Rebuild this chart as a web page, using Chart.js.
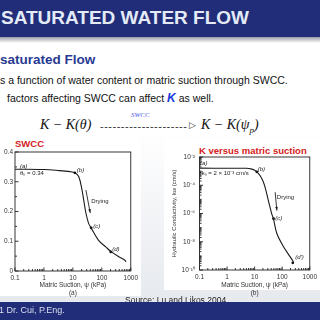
<!DOCTYPE html>
<html>
<head>
<meta charset="utf-8">
<script src="https://cdn.jsdelivr.net/npm/chart.js@4.4.1/dist/chart.umd.min.js"></script>
<style>
  html, body { margin: 0; padding: 0; }
  body { width: 320px; height: 320px; overflow: hidden; position: relative;
         font-family: "Liberation Sans", Arial, sans-serif;
         background: linear-gradient(180deg, #ffffff 0px, #ffffff 130px, #e6e9ee 300px); }
  .abs { position: absolute; white-space: nowrap; }
  #header { left: 0; top: 0; width: 320px; height: 37px; background: #212d78; }
  #shadow { left: 0; top: 37px; width: 320px; height: 6px; background: linear-gradient(180deg, #9a9ca6, rgba(255,255,255,0)); }
  #headText { left: 1px; top: 7px; font-size: 19px; font-weight: bold; color: #e4ebf6; }
  #sub { left: 0; top: 52px; font-size: 13.5px; font-weight: bold; color: #283a92; }
  .line { font-size: 10.5px; color: #111; }
  .eq { top: 117px; font-family: "Liberation Serif", serif; font-style: italic; font-size: 14px; color: #111; }
  .box { background: #fff; }
  .red { font-size: 9.5px; font-weight: bold; color: #d42020; }
  #footer { left: 0; top: 302px; width: 320px; height: 18px; background: #212d78; z-index: 5; }
  #footText { left: -1px; top: 305px; font-size: 9px; color: #d9dff0; z-index: 6; }
  canvas { position: absolute; }
</style>
</head>
<body>
<div id="header" class="abs"></div>
<div id="shadow" class="abs"></div>
<div id="headText" class="abs">SATURATED WATER FLOW</div>
<div id="sub" class="abs">saturated Flow</div>
<div class="abs line" style="left:0;top:74px;">s a function of water content or matric suction through SWCC.</div>
<div class="abs line" style="left:7px;top:91px;">factors affecting SWCC can affect <b style="color:#1a3ae0;font-style:italic;font-size:12px;">K</b> as well.</div>
<div class="abs eq" style="left:40px;">K − K(θ)</div>
<div class="abs" style="left:100px;top:120px;font-size:11px;color:#333;letter-spacing:0.5px;">---------------------</div>
<div class="abs" style="left:189px;top:120px;font-size:9px;color:#333;">▷</div>
<div class="abs eq" style="left:201px;">K − K(ψ<sub style="font-size:9px;">p</sub>)</div>
<div class="abs" style="left:131px;top:111px;font-family:'Liberation Serif',serif;font-style:italic;font-size:7px;color:#4a55e0;">SWCC</div>

<div class="abs box" style="left:0;top:138px;width:141px;height:158px;"></div>
<div class="abs box" style="left:164px;top:140px;width:156px;height:150px;"></div>
<div class="abs red" style="left:15px;top:138px;">SWCC</div>
<div class="abs red" style="left:199px;top:145px;">K versus matric suction</div>

<canvas id="left" width="141" height="160" style="left:0;top:140px;width:141px;height:160px;"></canvas>
<canvas id="right" width="155" height="160" style="left:165px;top:140px;width:155px;height:160px;"></canvas>

<div class="abs" style="left:125px;top:295px;font-size:8.5px;color:#222;">Source: Lu and Likos 2004</div>
<div id="footer" class="abs"></div>
<div id="footText" class="abs">1 Dr. Cui, P.Eng.</div>

<script>
// ---- data ----
const suctionTicks = [0.1, 1, 10, 100, 1000];
const suctionTickLabels = ['0.1', '1', '10', '100', '1000'];

const swccSuction = [0.1, 1, 3, 8, 11.7, 16, 20.7, 23.6, 28.2, 34.7, 42.7, 76, 140, 209, 400, 613, 680];
const swccTheta = [0.342, 0.341, 0.338, 0.334, 0.330, 0.317, 0.272, 0.239, 0.195, 0.161, 0.145, 0.104, 0.080, 0.065, 0.047, 0.037, 0.031];
const swccTicks = [0, 0.1, 0.2, 0.3, 0.4];
const swccTickLabels = ['0', '0.1', '0.2', '0.3', '0.4'];
const swccMarkSuction = [11.7, 42.7, 204];
const swccMarkTheta = [0.330, 0.145, 0.064];

const kSuction = [0.1, 1, 5, 8, 10, 12, 15.9, 20, 24, 31.5, 41.7, 48, 64, 112, 195, 257];
const kValue = [1.62e-3, 1.58e-3, 1.58e-3, 1.38e-3, 1.17e-3, 8.9e-4, 4.7e-4, 2.0e-4, 7.1e-5, 8.1e-6, 9.5e-7, 4.3e-7, 3.8e-8, 4.4e-9, 8.5e-10, 3.8e-10];
const kTicks = [1e-10, 1e-8, 1e-6, 1e-4, 1e-2];
const kTickLabels = ['10⁻¹⁰', '10⁻⁸', '10⁻⁶', '10⁻⁴', '10⁻²'];
const kMarkSuction = [12, 48.5, 242];
const kMarkValue = [8.9e-4, 4.3e-7, 3.2e-10];

// minor tick positions for log axes
function logMinors(lo, hi) {
  const out = [];
  for (let d = lo; d < hi; d++) for (let m = 2; m <= 9; m++) out.push(m * Math.pow(10, d));
  return out;
}

const decorate = {
  id: 'decorate',
  afterDatasetsDraw(chart, args, o) {
    const { ctx, chartArea: a, scales: { x, y } } = chart;
    ctx.save();
    ctx.strokeStyle = '#222';
    ctx.lineWidth = 0.9;
    ctx.strokeRect(a.left, a.top, a.right - a.left, a.bottom - a.top);
    ctx.beginPath();
    const tickX = (vals, len) => vals.forEach(v => {
      const p = x.getPixelForValue(v);
      ctx.moveTo(p, a.bottom); ctx.lineTo(p, a.bottom - len);
    });
    const tickY = (vals, len) => vals.forEach(v => {
      const p = y.getPixelForValue(v);
      ctx.moveTo(a.left, p); ctx.lineTo(a.left + len, p);
    });
    tickX(o.xMajor, 3.5); tickX(o.xMinor, 2);
    tickY(o.yMajor, 3.5); tickY(o.yMinor, 2);
    ctx.stroke();

    // drying arrow
    const ar = o.arrow;
    const x0 = x.getPixelForValue(ar[0]), y0 = y.getPixelForValue(ar[1]);
    const x1 = x.getPixelForValue(ar[2]), y1 = y.getPixelForValue(ar[3]);
    ctx.beginPath();
    ctx.moveTo(x0, y0); ctx.lineTo(x1, y1); ctx.stroke();
    const ang = Math.atan2(y1 - y0, x1 - x0);
    ctx.beginPath();
    ctx.moveTo(x1, y1);
    ctx.lineTo(x1 - 4 * Math.cos(ang - 0.35), y1 - 4 * Math.sin(ang - 0.35));
    ctx.lineTo(x1 - 4 * Math.cos(ang + 0.35), y1 - 4 * Math.sin(ang + 0.35));
    ctx.closePath();
    ctx.fillStyle = '#222';
    ctx.fill();

    // labels on the plot
    ctx.textBaseline = 'middle';
    o.notes.forEach(n => {
      ctx.font = (n.italic ? 'italic ' : '') + '6px "Liberation Sans", Arial, sans-serif';
      ctx.fillText(n.text, x.getPixelForValue(n.x), y.getPixelForValue(n.y));
    });
    ctx.restore();
  }
};

const tickFont = { family: '"Liberation Sans", Arial, sans-serif', size: 6.5 };

function xAxis(titleLines, height) {
  return {
    type: 'logarithmic', min: 0.1, max: 1000,
    grid: { display: false, drawTicks: false },
    border: { display: false },
    afterBuildTicks: s => { s.ticks = suctionTicks.map(v => ({ value: v })); },
    afterFit: s => { s.height = height; },
    ticks: {
      font: tickFont, color: '#333', padding: 3, autoSkip: false, maxRotation: 0,
      callback: (v) => suctionTickLabels[suctionTicks.indexOf(v)]
    },
    title: { display: true, text: titleLines, font: tickFont, color: '#333', padding: { top: 0, bottom: 3.3 } }
  };
}

// ---- left: SWCC ----
new Chart(document.getElementById('left'), {
  type: 'scatter',
  data: {
    datasets: [
      {
        data: swccSuction.map((v, i) => ({ x: v, y: swccTheta[i] })),
        showLine: true, borderColor: '#1a1a1a', borderWidth: 1.1, pointRadius: 0, tension: 0.35
      },
      {
        data: swccMarkSuction.map((v, i) => ({ x: v, y: swccMarkTheta[i] })),
        showLine: false, pointRadius: 1.4, backgroundColor: '#111', borderWidth: 0
      }
    ]
  },
  options: {
    responsive: false, animation: false,
    layout: { padding: { left: 0, top: 12, right: 7, bottom: 0 } },
    plugins: {
      legend: { display: false }, tooltip: { enabled: false },
      decorate: {
        xMajor: suctionTicks, xMinor: logMinors(-1, 3),
        yMajor: swccTicks, yMinor: [0.05, 0.15, 0.25, 0.35],
        arrow: [28.2, 0.272, 39.8, 0.195],
        notes: [
          { x: 0.148, y: 0.353, text: '(a)', italic: true },
          { x: 0.15, y: 0.327, text: 'θₛ = 0.34' },
          { x: 13.7, y: 0.339, text: '(b)', italic: true },
          { x: 43, y: 0.233, text: 'Drying' },
          { x: 51, y: 0.149, text: '(c)', italic: true },
          { x: 227, y: 0.074, text: '(d)', italic: true }
        ]
      }
    },
    scales: {
      x: xAxis(['Matric Suction, ψ (kPa)', '(a)'], 29),
      y: {
        min: 0, max: 0.4,
        grid: { display: false, drawTicks: false },
        border: { display: false },
        afterBuildTicks: s => { s.ticks = swccTicks.map(v => ({ value: v })); },
        afterFit: s => { s.width = 15; },
        ticks: {
          font: tickFont, color: '#333', padding: 2,
          callback: (v) => swccTickLabels[swccTicks.indexOf(v)]
        }
      }
    }
  },
  plugins: [decorate]
});

// ---- right: K versus matric suction ----
new Chart(document.getElementById('right'), {
  type: 'scatter',
  data: {
    datasets: [
      {
        data: kSuction.map((v, i) => ({ x: v, y: kValue[i] })),
        showLine: true, borderColor: '#1a1a1a', borderWidth: 1.1, pointRadius: 0, tension: 0.35
      },
      {
        data: kMarkSuction.map((v, i) => ({ x: v, y: kMarkValue[i] })),
        showLine: false, pointRadius: 1.4, backgroundColor: '#111', borderWidth: 0
      }
    ]
  },
  options: {
    responsive: false, animation: false,
    layout: { padding: { left: 0, top: 17, right: 9, bottom: 0 } },
    plugins: {
      legend: { display: false }, tooltip: { enabled: false },
      decorate: {
        xMajor: suctionTicks, xMinor: logMinors(-1, 3),
        yMajor: kTicks, yMinor: logMinors(-10, -2).concat([1e-9, 1e-7, 1e-5, 1e-3]),
        arrow: [55.6, 3.2e-5, 64, 1.6e-6],
        notes: [
          { x: 0.105, y: 3.6e-3, text: '(a)', italic: true },
          { x: 0.12, y: 6.8e-4, text: 'kₛ = 2 × 10⁻³ cm/s' },
          { x: 13, y: 1.4e-3, text: '(b)', italic: true },
          { x: 64, y: 1.3e-5, text: 'Drying' },
          { x: 55.6, y: 4.3e-7, text: '(c)', italic: true },
          { x: 295, y: 8e-10, text: "(d')", italic: true }
        ]
      }
    },
    scales: {
      x: xAxis(['Matric Suction, ψ (kPa)', '(b)'], 30),
      y: {
        type: 'logarithmic', min: 1e-10, max: 1e-2,
        grid: { display: false, drawTicks: false },
        border: { display: false },
        afterBuildTicks: s => { s.ticks = kTicks.map(v => ({ value: v })); },
        afterFit: s => { s.width = 34.5; },
        ticks: {
          font: tickFont, color: '#333', padding: 4.5, autoSkip: false,
          callback: (v) => kTickLabels[kTicks.indexOf(v)]
        },
        title: {
          display: true, text: 'Hydraulic Conductivity, kw (cm/s)',
          font: { family: '"Liberation Sans", Arial, sans-serif', size: 6 }, color: '#333',
          padding: { top: 5.4, bottom: 0 }
        }
      }
    }
  },
  plugins: [decorate]
});
</script>
</body>
</html>
